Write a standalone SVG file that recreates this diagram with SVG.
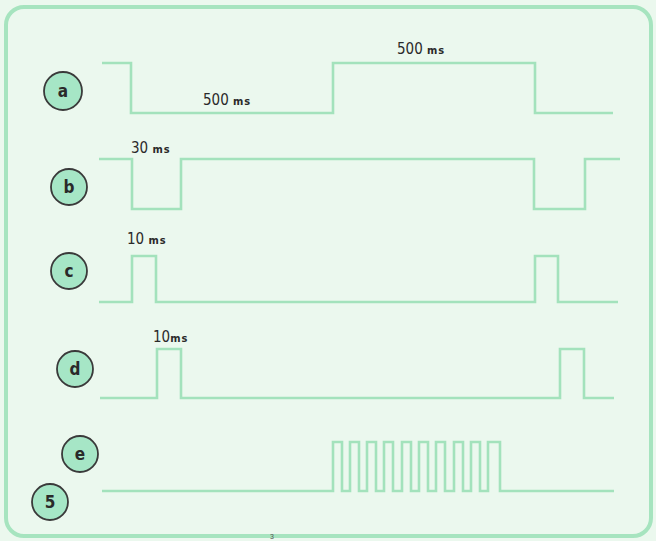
<svg xmlns="http://www.w3.org/2000/svg" width="656" height="541" viewBox="0 0 656 541">
<style>
.bg{fill:#ebf8ee}
.frame{fill:none;stroke:#a6e4bf;stroke-width:4}
.wave{fill:none;stroke:#a3e2bc;stroke-width:2.6;stroke-linejoin:miter}
.node circle{fill:#a6e6c6;stroke:#3a3a3a;stroke-width:1.8}
.node text{font-family:"DejaVu Sans Condensed","DejaVu Sans","Liberation Sans",sans-serif;font-weight:bold;font-size:17px;fill:#2a2a2a;text-anchor:middle}
.lbl{font-family:"DejaVu Sans Condensed","DejaVu Sans","Liberation Sans",sans-serif;font-size:15px;fill:#2a2a2a}
.lbl .u{font-size:11px;font-weight:bold;letter-spacing:1px}
</style>
<rect class="bg" x="0" y="0" width="656" height="541"/>
<rect class="frame" x="6" y="7" width="645" height="529" rx="18"/>
<g id="connectors">
<path id="wave-a" class="wave" d="M102,63 H131 V113 H333 V63 H535 V113 H613"/>
<path id="wave-b" class="wave" d="M99,159 H132 V209 H181 V159 H534 V209 H585 V159 H620"/>
<path id="wave-c" class="wave" d="M99,302 H132 V256 H156 V302 H535 V256 H558 V302 H618"/>
<path id="wave-d" class="wave" d="M100,398 H157 V349 H181 V398 H560 V349 H584 V398 H614"/>
<path id="wave-e" class="wave" d="M102,491 H333 V442 H342 V491 H350 V442 H359 V491 H367 V442 H376 V491 H384 V442 H393 V491 H402 V442 H411 V491 H419 V442 H428 V491 H436 V442 H445 V491 H454 V442 H463 V491 H471 V442 H480 V491 H488 V442 H500 V491 H614"/>
</g>
<g id="labels">
<text class="lbl" x="203" y="105">500 <tspan class="u">ms</tspan></text>
<text class="lbl" x="397" y="54">500 <tspan class="u">ms</tspan></text>
<text class="lbl" x="131" y="153">30 <tspan class="u">ms</tspan></text>
<text class="lbl" x="127" y="244">10 <tspan class="u">ms</tspan></text>
<text class="lbl" x="153" y="342">10<tspan class="u">ms</tspan></text>
<text x="272" y="539" font-family="Liberation Sans, sans-serif" font-size="7" fill="#555" text-anchor="middle">3</text>
</g>
<g id="node-a" class="node"><circle cx="63" cy="91" r="19"/><text x="63" y="97">a</text></g>
<g id="node-b" class="node"><circle cx="69" cy="187" r="18"/><text x="69" y="193">b</text></g>
<g id="node-c" class="node"><circle cx="69" cy="271" r="18"/><text x="69" y="277">c</text></g>
<g id="node-d" class="node"><circle cx="75" cy="369" r="18"/><text x="75" y="375">d</text></g>
<g id="node-e" class="node"><circle cx="80" cy="454" r="18"/><text x="80" y="460">e</text></g>
<g id="node-5" class="node"><circle cx="50" cy="502" r="18"/><text x="50" y="508">5</text></g>
</svg>
